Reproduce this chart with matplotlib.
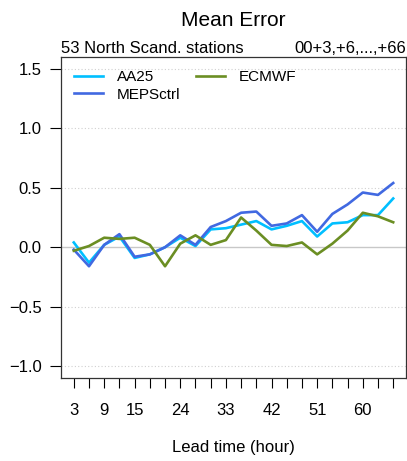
import numpy as np
import matplotlib
matplotlib.use("Agg")
from matplotlib import pyplot as plt

plt.rcParams['font.family'] = ['Liberation Sans', 'DejaVu Sans']

lead = list(range(3, 67, 3))
aa25 = [0.04, -0.13, 0.02, 0.09, -0.09, -0.06, 0.00, 0.08, 0.01, 0.15, 0.16,
        0.19, 0.22, 0.15, 0.18, 0.22, 0.09, 0.20, 0.21, 0.27, 0.27, 0.41]
mepsctrl = [-0.02, -0.16, 0.02, 0.11, -0.08, -0.06, 0.00, 0.10, 0.02, 0.17, 0.22,
            0.29, 0.30, 0.18, 0.20, 0.27, 0.13, 0.28, 0.36, 0.46, 0.44, 0.54]
ecmwf = [-0.03, 0.01, 0.08, 0.07, 0.08, 0.02, -0.16, 0.03, 0.10, 0.02, 0.06,
         0.25, 0.14, 0.02, 0.01, 0.04, -0.06, 0.03, 0.14, 0.29, 0.26, 0.21]
xlabels = [3, 9, 15, 24, 33, 42, 51, 60]
yticks = [-1.0, -0.5, 0.0, 0.5, 1.0, 1.5]

fig = plt.figure(figsize=(4.07, 4.61), dpi=100)
ax = fig.add_axes([0.1499, 0.18, 0.8476, 0.6964])

for yv in yticks:
    if yv == 0:
        ax.axhline(yv, color='#c8c8c8', lw=1.0, zorder=1)
    else:
        ax.axhline(yv, color='#d0d0d0', lw=0.8, ls=(0, (1, 2)), zorder=1)

ax.plot(lead, aa25, color='#00BFFF', lw=1.9, label='AA25', zorder=3)
ax.plot(lead, mepsctrl, color='#4169E1', lw=1.9, label='MEPSctrl', zorder=4)
ax.plot(lead, ecmwf, color='#6B8E23', lw=1.9, label='ECMWF', zorder=5)

ax.set_xlim(0.48, 68.52)
ax.set_ylim(-1.1, 1.6)
ax.set_xticks(lead)
ax.set_xticklabels([str(v) if v in xlabels else '' for v in lead], fontsize=12)
ax.set_yticks(yticks)
ax.set_yticklabels(['\u22121.0', '\u22120.5', '0.0', '0.5', '1.0', '1.5'], fontsize=12)
ax.tick_params(axis='x', length=7, width=0.8, pad=11)
ax.tick_params(axis='y', length=8, width=0.8, pad=6)
for s in ax.spines.values():
    s.set_linewidth(0.9)
    s.set_color('#333333')

ax.set_xlabel('Lead time (hour)', fontsize=12, labelpad=16)
fig.text(0.574, 0.955, 'Mean Error', ha='center', va='center', fontsize=15)
ax.text(0.0, 0.0125 + 1, '53 North Scand. stations', transform=ax.transAxes,
        ha='left', va='baseline', fontsize=12)
ax.text(1.0, 0.0125 + 1, '00+3,+6,...,+66', transform=ax.transAxes,
        ha='right', va='baseline', fontsize=12)

ax.legend(loc='upper left', ncol=2, frameon=False, fontsize=11,
          handlelength=1.9, handletextpad=0.9, columnspacing=1.0,
          labelspacing=0.25, borderaxespad=0.45, bbox_to_anchor=(0.0, 1.0))

fig.savefig('out.png', dpi=100)
